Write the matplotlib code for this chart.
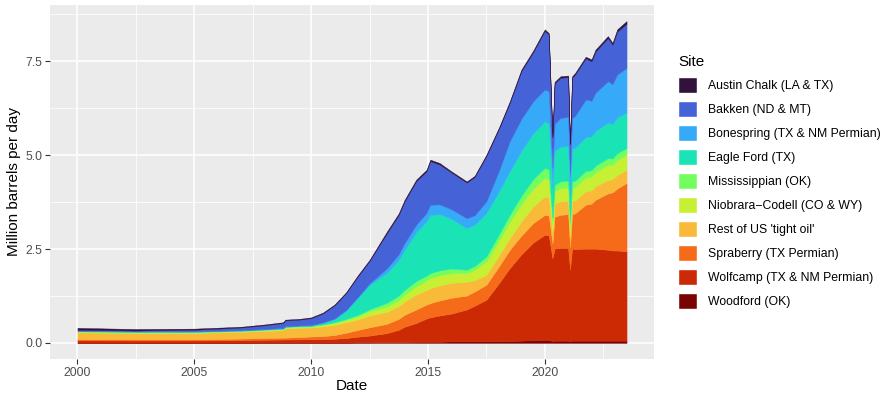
import numpy as np
import matplotlib
matplotlib.use("Agg")
import matplotlib.pyplot as plt
from matplotlib.patches import Patch

# decimal year of each reading
dates = [2000.0, 2002.5, 2005.0, 2007.0, 2008.0, 2008.8, 2008.9, 2009.5, 2010.0, 2010.5,
         2011.0, 2011.5, 2012.0, 2012.5, 2013.25, 2013.75, 2014.0, 2014.5, 2014.94, 2015.1,
         2015.5, 2016.0, 2016.66, 2017.0, 2017.5, 2018.05, 2018.5, 2019.0, 2019.5, 2020.0,
         2020.17, 2020.33, 2020.42, 2020.67, 2021.0, 2021.08, 2021.17, 2021.3, 2021.75, 2022.0,
         2022.17, 2022.7, 2022.9, 2023.1, 2023.5]

# million barrels per day, by play
woodford = [.005, .005, .005, .005, .01, .01, .01, .01, .01, .01,
            .01, .01, .015, .015, .02, .02, .02, .03, .03, .03,
            .03, .04, .04, .04, .04, .05, .05, .06, .07, .08,
            .08, .05, .06, .06, .06, .05, .06, .06, .06, .06,
            .06, .06, .06, .06, .06]
wolfcamp = [.065, .06, .06, .07, .075, .08, .08, .085, .09, .09,
            .10, .12, .15, .18, .24, .33, .41, .50, .62, .65,
            .70, .74, .85, .95, 1.11, 1.55, 1.94, 2.30, 2.60, 2.80,
            2.78, 2.20, 2.45, 2.47, 2.47, 1.90, 2.45, 2.44, 2.45, 2.45,
            2.45, 2.42, 2.40, 2.40, 2.38]
spraberry = [.03, .03, .03, .04, .045, .05, .05, .06, .07, .08,
             .10, .14, .18, .22, .25, .29, .32, .36, .37, .38,
             .40, .42, .37, .38, .40, .45, .49, .50, .52, .53,
             .53, .40, .85, .88, .90, .60, .92, .95, 1.17, 1.20,
             1.30, 1.50, 1.55, 1.65, 1.82]
rest_us = [.18, .17, .17, .18, .19, .20, .25, .25, .24, .26,
           .27, .28, .28, .31, .32, .34, .35, .40, .39, .40,
           .40, .40, .37, .30, .26, .29, .31, .38, .44, .49,
           .48, .30, .35, .36, .36, .28, .35, .35, .36, .35,
           .36, .36, .35, .36, .35]
niobrara = [.02, .02, .02, .02, .025, .03, .03, .03, .03, .04,
            .05, .06, .08, .12, .14, .16, .18, .22, .25, .27,
            .27, .26, .23, .28, .36, .40, .44, .46, .48, .49,
            .48, .25, .33, .35, .35, .27, .35, .35, .37, .37,
            .38, .40, .38, .40, .40]
mississippian = [.01, .01, .01, .01, .01, .01, .01, .01, .01, .015,
                 .02, .03, .04, .05, .10, .12, .13, .14, .13, .13,
                 .13, .12, .09, .10, .13, .16, .18, .22, .25, .27,
                 .27, .12, .17, .18, .18, .13, .17, .17, .17, .17,
                 .17, .18, .17, .18, .18]
eagle_ford = [.005, .005, .005, .005, .005, .005, .005, .005, .01, .03,
              .08, .22, .45, .65, .80, .95, 1.07, 1.30, 1.45, 1.55,
              1.50, 1.33, 1.11, 1.10, 1.16, 1.15, 1.16, 1.20, 1.22, 1.24,
              1.22, .80, .90, .93, .92, .70, .88, .88, .90, .90,
              .92, .95, .92, .95, .94]
bonespring = [.01, .01, .01, .01, .01, .015, .015, .015, .02, .02,
              .02, .02, .03, .04, .12, .15, .18, .20, .22, .27,
              .26, .25, .26, .25, .31, .55, .80, .85, .85, .85,
              .86, .55, .72, .76, .78, .55, .80, .85, 1.00, .95,
              1.02, 1.10, 1.06, 1.15, 1.19]
bakken = [.025, .02, .04, .07, .10, .13, .15, .155, .18, .24,
          .35, .45, .55, .60, .94, 1.05, 1.11, 1.16, 1.11, 1.16,
          1.06, .98, .95, 1.02, 1.21, 1.12, 1.02, 1.27, 1.31, 1.56,
          1.51, .80, 1.08, 1.07, 1.06, .80, 1.08, 1.10, 1.10, 1.05,
          1.10, 1.15, 1.05, 1.14, 1.18]
austin_chalk = [.05, .04, .03, .02, .02, .02, .02, .02, .02, .02,
                .02, .02, .025, .025, .04, .04, .04, .04, .04, .04,
                .04, .03, .03, .03, .03, .03, .04, .04, .04, .04,
                .04, .03, .04, .04, .04, .03, .04, .04, .04, .05,
                .05, .05, .05, .06, .07]

sites = ["Austin Chalk (LA & TX)", "Bakken (ND & MT)", "Bonespring (TX & NM Permian)",
         "Eagle Ford (TX)", "Mississippian (OK)", "Niobrara\u2212Codell (CO & WY)",
         "Rest of US 'tight oil'", "Spraberry (TX Permian)", "Wolfcamp (TX & NM Permian)",
         "Woodford (OK)"]
colors = ["#30123B", "#4662D7", "#36AAF9", "#1AE4B6", "#72FE5E",
          "#C7EF34", "#FABA39", "#F66B19", "#CB2A04", "#7A0403"]
series = [austin_chalk, bakken, bonespring, eagle_ford, mississippian,
          niobrara, rest_us, spraberry, wolfcamp, woodford]

plt.rcParams['font.family'] = ['Liberation Sans', 'DejaVu Sans']

fig = plt.figure(figsize=(8.86, 3.94), dpi=100)
ax = fig.add_axes([50/886, 1 - 359/394, 604/886, 354/394])
ax.set_facecolor('#EBEBEB')

# first site sits on top of the stack, like ggplot
ax.stackplot(dates, *series[::-1], colors=colors[::-1], edgecolor='face', linewidth=0.3, zorder=3)

total = np.sum(np.array(series), axis=0)
xpad = 0.05 * (dates[-1] - dates[0])
ypad = 0.05 * total.max()
ax.set_xlim(dates[0] - xpad, dates[-1] + xpad)
ax.set_ylim(-ypad, total.max() + ypad)

ax.set_xticks([2000, 2005, 2010, 2015, 2020])
ax.set_xticks([2002.5, 2007.5, 2012.5, 2017.5, 2022.5], minor=True)
ax.set_yticks([0, 2.5, 5, 7.5])
ax.set_yticklabels(["0.0", "2.5", "5.0", "7.5"])
ax.set_yticks([1.25, 3.75, 6.25, 8.75], minor=True)
ax.grid(which='major', color='white', linewidth=1.1, zorder=1)
ax.grid(which='minor', color='white', linewidth=0.55, zorder=1)
ax.set_axisbelow(True)
for s in ax.spines.values():
    s.set_visible(False)
ax.tick_params(which='major', length=3.5, width=0.8, color='#333333',
               labelcolor='#4D4D4D', labelsize=8.8, pad=2)
ax.tick_params(which='minor', length=0)

ax.set_xlabel("Date", fontsize=11, labelpad=0)
ax.set_ylabel("Million barrels per day", fontsize=11, labelpad=3)

handles = [Patch(facecolor=c, edgecolor='white', linewidth=1) for c in colors]
fig.legend(handles, sites, title="Site", loc='upper left',
           bbox_to_anchor=(673/886, 1 - 50/394), frameon=False,
           fontsize=8.8, title_fontsize=11, handlelength=1.55, handleheight=1.6,
           labelspacing=0.68, handletextpad=0.95, alignment='left', borderaxespad=0)

fig.savefig('out.png', dpi=100)
